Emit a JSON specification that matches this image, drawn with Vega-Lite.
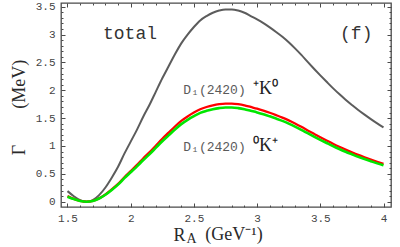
{
  "$schema": "https://vega.github.io/schema/vega-lite/v6.json",
  "width": 330,
  "height": 204,
  "autosize": {"type": "none"},
  "padding": {"left": 61, "top": 3, "right": 9, "bottom": 40},
  "background": "white",
  "config": {
    "view": {"stroke": "#4a4a4a", "strokeWidth": 1.3},
    "axis": {
      "domain": false,
      "grid": false,
      "tickColor": "#4a4a4a",
      "tickWidth": 1,
      "labelFont": "Liberation Mono",
      "labelFontSize": 11,
      "labelColor": "#444444",
      "labelOverlap": false,
      "titleFont": "Liberation Serif",
      "titleFontSize": 18,
      "titleFontWeight": "normal",
      "titleColor": "#2a2a2a"
    }
  },
  "datasets": {
    "curves": [
      {"r":1.5,"s":"total","v":0.19},{"r":1.55,"s":"total","v":0.098},{"r":1.6,"s":"total","v":0.029},{"r":1.65,"s":"total","v":0.0},{"r":1.7,"s":"total","v":0.029},{"r":1.75,"s":"total","v":0.118},{"r":1.8,"s":"total","v":0.255},{"r":1.85,"s":"total","v":0.431},{"r":1.9,"s":"total","v":0.627},{"r":1.95,"s":"total","v":0.862},{"r":2.0,"s":"total","v":1.078},{"r":2.05,"s":"total","v":1.294},{"r":2.1,"s":"total","v":1.529},{"r":2.15,"s":"total","v":1.744},{"r":2.2,"s":"total","v":1.98},{"r":2.25,"s":"total","v":2.215},{"r":2.3,"s":"total","v":2.43},{"r":2.35,"s":"total","v":2.646},{"r":2.4,"s":"total","v":2.842},{"r":2.45,"s":"total","v":2.999},{"r":2.5,"s":"total","v":3.136},{"r":2.55,"s":"total","v":3.254},{"r":2.6,"s":"total","v":3.332},{"r":2.65,"s":"total","v":3.391},{"r":2.7,"s":"total","v":3.43},{"r":2.75,"s":"total","v":3.45},{"r":2.8,"s":"total","v":3.45},{"r":2.85,"s":"total","v":3.43},{"r":2.9,"s":"total","v":3.391},{"r":2.95,"s":"total","v":3.332},{"r":3.0,"s":"total","v":3.273},{"r":3.05,"s":"total","v":3.205},{"r":3.1,"s":"total","v":3.128},{"r":3.15,"s":"total","v":3.046},{"r":3.2,"s":"total","v":2.96},{"r":3.25,"s":"total","v":2.862},{"r":3.3,"s":"total","v":2.752},{"r":3.35,"s":"total","v":2.634},{"r":3.4,"s":"total","v":2.509},{"r":3.45,"s":"total","v":2.387},{"r":3.5,"s":"total","v":2.268},{"r":3.55,"s":"total","v":2.152},{"r":3.6,"s":"total","v":2.038},{"r":3.65,"s":"total","v":1.931},{"r":3.7,"s":"total","v":1.831},{"r":3.75,"s":"total","v":1.737},{"r":3.8,"s":"total","v":1.646},{"r":3.85,"s":"total","v":1.562},{"r":3.9,"s":"total","v":1.482},{"r":3.95,"s":"total","v":1.405},{"r":4.0,"s":"total","v":1.333},
      {"r":1.5,"s":"plus","v":0.1},{"r":1.55,"s":"plus","v":0.05},{"r":1.6,"s":"plus","v":0.015},{"r":1.65,"s":"plus","v":0.0},{"r":1.7,"s":"plus","v":0.015},{"r":1.75,"s":"plus","v":0.06},{"r":1.8,"s":"plus","v":0.13},{"r":1.85,"s":"plus","v":0.22},{"r":1.9,"s":"plus","v":0.32},{"r":1.95,"s":"plus","v":0.44},{"r":2.0,"s":"plus","v":0.55},{"r":2.05,"s":"plus","v":0.66},{"r":2.1,"s":"plus","v":0.78},{"r":2.15,"s":"plus","v":0.89},{"r":2.2,"s":"plus","v":1.01},{"r":2.25,"s":"plus","v":1.13},{"r":2.3,"s":"plus","v":1.24},{"r":2.35,"s":"plus","v":1.35},{"r":2.4,"s":"plus","v":1.45},{"r":2.45,"s":"plus","v":1.53},{"r":2.5,"s":"plus","v":1.6},{"r":2.55,"s":"plus","v":1.66},{"r":2.6,"s":"plus","v":1.7},{"r":2.65,"s":"plus","v":1.73},{"r":2.7,"s":"plus","v":1.75},{"r":2.75,"s":"plus","v":1.76},{"r":2.8,"s":"plus","v":1.76},{"r":2.85,"s":"plus","v":1.75},{"r":2.9,"s":"plus","v":1.73},{"r":2.95,"s":"plus","v":1.7},{"r":3.0,"s":"plus","v":1.67},{"r":3.05,"s":"plus","v":1.635},{"r":3.1,"s":"plus","v":1.596},{"r":3.15,"s":"plus","v":1.554},{"r":3.2,"s":"plus","v":1.51},{"r":3.25,"s":"plus","v":1.46},{"r":3.3,"s":"plus","v":1.404},{"r":3.35,"s":"plus","v":1.344},{"r":3.4,"s":"plus","v":1.28},{"r":3.45,"s":"plus","v":1.218},{"r":3.5,"s":"plus","v":1.157},{"r":3.55,"s":"plus","v":1.098},{"r":3.6,"s":"plus","v":1.04},{"r":3.65,"s":"plus","v":0.985},{"r":3.7,"s":"plus","v":0.934},{"r":3.75,"s":"plus","v":0.886},{"r":3.8,"s":"plus","v":0.84},{"r":3.85,"s":"plus","v":0.797},{"r":3.9,"s":"plus","v":0.756},{"r":3.95,"s":"plus","v":0.717},{"r":4.0,"s":"plus","v":0.68},
      {"r":1.5,"s":"zero","v":0.09},{"r":1.55,"s":"zero","v":0.048},{"r":1.6,"s":"zero","v":0.014},{"r":1.65,"s":"zero","v":0.0},{"r":1.7,"s":"zero","v":0.014},{"r":1.75,"s":"zero","v":0.058},{"r":1.8,"s":"zero","v":0.125},{"r":1.85,"s":"zero","v":0.211},{"r":1.9,"s":"zero","v":0.307},{"r":1.95,"s":"zero","v":0.422},{"r":2.0,"s":"zero","v":0.528},{"r":2.05,"s":"zero","v":0.634},{"r":2.1,"s":"zero","v":0.749},{"r":2.15,"s":"zero","v":0.854},{"r":2.2,"s":"zero","v":0.97},{"r":2.25,"s":"zero","v":1.085},{"r":2.3,"s":"zero","v":1.19},{"r":2.35,"s":"zero","v":1.296},{"r":2.4,"s":"zero","v":1.392},{"r":2.45,"s":"zero","v":1.469},{"r":2.5,"s":"zero","v":1.536},{"r":2.55,"s":"zero","v":1.594},{"r":2.6,"s":"zero","v":1.632},{"r":2.65,"s":"zero","v":1.661},{"r":2.7,"s":"zero","v":1.68},{"r":2.75,"s":"zero","v":1.69},{"r":2.8,"s":"zero","v":1.69},{"r":2.85,"s":"zero","v":1.68},{"r":2.9,"s":"zero","v":1.661},{"r":2.95,"s":"zero","v":1.632},{"r":3.0,"s":"zero","v":1.603},{"r":3.05,"s":"zero","v":1.57},{"r":3.1,"s":"zero","v":1.532},{"r":3.15,"s":"zero","v":1.492},{"r":3.2,"s":"zero","v":1.45},{"r":3.25,"s":"zero","v":1.402},{"r":3.3,"s":"zero","v":1.348},{"r":3.35,"s":"zero","v":1.29},{"r":3.4,"s":"zero","v":1.229},{"r":3.45,"s":"zero","v":1.169},{"r":3.5,"s":"zero","v":1.111},{"r":3.55,"s":"zero","v":1.054},{"r":3.6,"s":"zero","v":0.998},{"r":3.65,"s":"zero","v":0.946},{"r":3.7,"s":"zero","v":0.897},{"r":3.75,"s":"zero","v":0.851},{"r":3.8,"s":"zero","v":0.806},{"r":3.85,"s":"zero","v":0.765},{"r":3.9,"s":"zero","v":0.726},{"r":3.95,"s":"zero","v":0.688},{"r":4.0,"s":"zero","v":0.653}
    ],
    "big": [
      {"x": 1.781, "y": 3.01, "t": "total"},
      {"x": 3.656, "y": 3.01, "t": "(f)"}
    ],
    "dname": [
      {"x": 2.416, "y": 1.934, "t": "D₁(2420)"},
      {"x": 2.416, "y": 0.91, "t": "D₁(2420)"}
    ],
    "kname": [
      {"x": 2.968, "y": 1.934, "t": "⁺K⁰"},
      {"x": 2.968, "y": 0.91, "t": "⁰K⁺"}
    ],
    "sub": [
      {"x": 2.482, "y": -0.736, "t": "A"}
    ],
    "unit": [
      {"x": 2.59, "y": -0.688, "t": "(GeV⁻¹)"}
    ]
  },
  "resolve": {"axis": {"x": "independent", "y": "independent"}},
  "layer": [
    {
      "data": {"name": "curves"},
      "mark": {"type": "line", "interpolate": "monotone", "clip": true},
      "encoding": {
        "x": {
          "field": "r", "type": "quantitative",
          "scale": {"domain": [1.4486, 4.0593], "nice": false, "zero": false},
          "axis": {
            "orient": "bottom",
            "values": [1.5,1.6,1.7,1.8,1.9,2.0,2.1,2.2,2.3,2.4,2.5,2.6,2.7,2.8,2.9,3.0,3.1,3.2,3.3,3.4,3.5,3.6,3.7,3.8,3.9,4.0],
            "format": ".1~f",
            "labelExpr": "abs(datum.value*2 - round(datum.value*2)) < 0.001 ? datum.label : ''",
            "tickSize": {"condition": {"test": "abs(datum.value*2 - round(datum.value*2)) < 0.001", "value": -4}, "value": -2},
            "labelPadding": 9,
            "title": "R",
            "titleAnchor": "start",
            "titleAlign": "left",
            "titleBaseline": "alphabetic",
            "titleFontWeight": "normal",
            "titleX": 112,
            "titleY": 33
          }
        },
        "y": {
          "field": "v", "type": "quantitative",
          "scale": {"domain": [-0.095, 3.566], "nice": false, "zero": false},
          "axis": {
            "orient": "left",
            "values": [0,0.1,0.2,0.3,0.4,0.5,0.6,0.7,0.8,0.9,1.0,1.1,1.2,1.3,1.4,1.5,1.6,1.7,1.8,1.9,2.0,2.1,2.2,2.3,2.4,2.5,2.6,2.7,2.8,2.9,3.0,3.1,3.2,3.3,3.4,3.5],
            "format": ".1~f",
            "labelExpr": "abs(datum.value*2 - round(datum.value*2)) < 0.001 ? datum.label : ''",
            "tickSize": {"condition": {"test": "abs(datum.value*2 - round(datum.value*2)) < 0.001", "value": -4}, "value": -2},
            "labelPadding": 10,
            "title": "Γ\u00a0\u00a0\u00a0\u00a0\u00a0\u00a0\u00a0\u00a0(MeV)",
            "titleAngle": -90,
            "titleAlign": "center",
            "titleAnchor": "middle",
            "titleBaseline": "alphabetic",
            "titleFontWeight": "normal",
            "titleX": -37,
            "titleY": 104
          }
        },
        "color": {
          "field": "s", "type": "nominal",
          "scale": {"domain": ["total", "plus", "zero"], "range": ["#5c5c5c", "#ff0000", "#00e600"]},
          "legend": null
        },
        "strokeWidth": {
          "field": "s", "type": "nominal",
          "scale": {"domain": ["total", "plus", "zero"], "range": [2, 2.6, 1.5]},
          "legend": null
        }
      }
    },
    {
      "data": {"name": "big"},
      "mark": {"type": "text", "font": "Liberation Mono", "fontSize": 18, "color": "#333333", "align": "left", "baseline": "middle"},
      "encoding": {
        "x": {
          "field": "x", "type": "quantitative",
          "axis": {
            "orient": "top",
            "values": [1.5,1.6,1.7,1.8,1.9,2.0,2.1,2.2,2.3,2.4,2.5,2.6,2.7,2.8,2.9,3.0,3.1,3.2,3.3,3.4,3.5,3.6,3.7,3.8,3.9,4.0],
            "labels": false,
            "title": null,
            "tickSize": {"condition": {"test": "abs(datum.value*2 - round(datum.value*2)) < 0.001", "value": -4}, "value": -2}
          }
        },
        "y": {
          "field": "y", "type": "quantitative",
          "axis": {
            "orient": "right",
            "values": [0,0.1,0.2,0.3,0.4,0.5,0.6,0.7,0.8,0.9,1.0,1.1,1.2,1.3,1.4,1.5,1.6,1.7,1.8,1.9,2.0,2.1,2.2,2.3,2.4,2.5,2.6,2.7,2.8,2.9,3.0,3.1,3.2,3.3,3.4,3.5],
            "labels": false,
            "title": null,
            "tickSize": {"condition": {"test": "abs(datum.value*2 - round(datum.value*2)) < 0.001", "value": -4}, "value": -2}
          }
        },
        "text": {"field": "t", "type": "nominal"}
      }
    },
    {
      "data": {"name": "dname"},
      "mark": {"type": "text", "font": "Liberation Mono", "fontSize": 13, "color": "#5a5a5a", "align": "left", "baseline": "alphabetic"},
      "encoding": {
        "x": {"field": "x", "type": "quantitative", "axis": null},
        "y": {"field": "y", "type": "quantitative", "axis": null},
        "text": {"field": "t", "type": "nominal"}
      }
    },
    {
      "data": {"name": "kname"},
      "mark": {"type": "text", "font": "Liberation Serif", "fontSize": 18, "color": "#222222", "align": "left", "baseline": "alphabetic"},
      "encoding": {
        "x": {"field": "x", "type": "quantitative", "axis": null},
        "y": {"field": "y", "type": "quantitative", "axis": null},
        "text": {"field": "t", "type": "nominal"}
      }
    },
    {
      "data": {"name": "sub"},
      "mark": {"type": "text", "font": "Liberation Serif", "fontSize": 14, "color": "#2a2a2a", "align": "center", "baseline": "alphabetic", "clip": false},
      "encoding": {
        "x": {"field": "x", "type": "quantitative", "axis": null},
        "y": {"field": "y", "type": "quantitative", "axis": null},
        "text": {"field": "t", "type": "nominal"}
      }
    },
    {
      "data": {"name": "unit"},
      "mark": {"type": "text", "font": "Liberation Serif", "fontSize": 18, "color": "#2a2a2a", "align": "left", "baseline": "alphabetic", "clip": false},
      "encoding": {
        "x": {"field": "x", "type": "quantitative", "axis": null},
        "y": {"field": "y", "type": "quantitative", "axis": null},
        "text": {"field": "t", "type": "nominal"}
      }
    }
  ]
}
